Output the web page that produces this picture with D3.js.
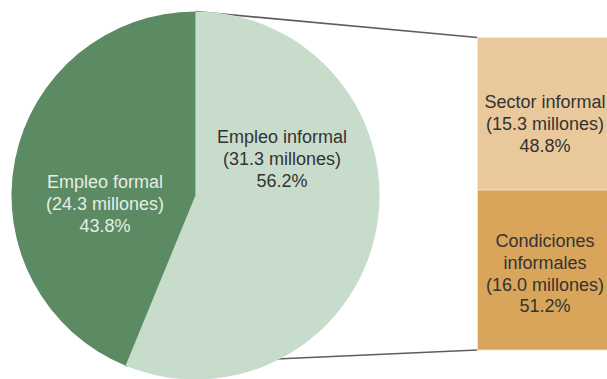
<!DOCTYPE html>
<html>
<head>
<meta charset="utf-8">
<script src="https://cdn.jsdelivr.net/npm/d3@7/dist/d3.min.js"></script>
<style>
  html, body { margin: 0; padding: 0; background: #fff; overflow: hidden; }
  svg { display: block; }
  text { font-family: "Liberation Sans", Arial, sans-serif; }
</style>
</head>
<body>
<svg id="chart" width="607" height="379"></svg>
<script>
// Main pie: employment split (informal slice first, clockwise from 12 o'clock)
const pieNames = ["Empleo informal", "Empleo formal"];
const pieMillions = ["31.3", "24.3"];
const piePercents = [56.2, 43.8];

// Stacked bar: breakdown of informal employment (top to bottom)
const barNames = [["Sector informal"], ["Condiciones", "informales"]];
const barMillions = ["15.3", "16.0"];
const barPercents = [48.8, 51.2];

const W = 607, H = 379;
const svg = d3.select("#chart");

const cx = 195.5, cy = 195.5, R = 184;
const pieColors = ["#c8dccc", "#5b8a63"];
const pieText = ["#333333", "#e4eee6"];
const barColors = ["#e9c99c", "#d9a55a"];

// Bar geometry
const barX0 = 477.5, barX1 = 614;
const y = d3.scaleLinear().domain([0, 100]).range([37.5, 350]);

const pie = d3.pie().sort(null).startAngle(0).endAngle(2 * Math.PI);
const arcs = pie(piePercents);
const arc = d3.arc().innerRadius(0).outerRadius(R);

// Connector lines run from the informal slice's edges to the bar corners;
// they are drawn first so the pie covers their inner part.
const inf = arcs[0];
const edgePt = a => [cx + R * Math.sin(a), cy - R * Math.cos(a)];
const p0 = edgePt(inf.startAngle), p1 = edgePt(inf.endAngle);
const conn = svg.append("g")
  .attr("stroke", "#5e5e5e").attr("stroke-width", 1.6).attr("fill", "none");
conn.append("line")
  .attr("x1", p0[0]).attr("y1", p0[1]).attr("x2", barX0).attr("y2", y(0));
conn.append("line")
  .attr("x1", p1[0]).attr("y1", p1[1]).attr("x2", barX0).attr("y2", y(100));

// Pie slices
const g = svg.append("g").attr("transform", `translate(${cx},${cy})`);
g.selectAll("path").data(arcs).join("path")
  .attr("d", arc)
  .attr("fill", (d, i) => pieColors[i]);

// Pie labels
const fmt = d3.format(".1f");
const pieLabelPos = [[282, 143], [105, 188]];
const lh = 21.8;
const fs = 18;
arcs.forEach((d, i) => {
  const t = svg.append("text")
    .attr("text-anchor", "middle")
    .attr("fill", pieText[i])
    .attr("font-size", fs);
  const lines = [pieNames[i], `(${pieMillions[i]} millones)`, `${fmt(piePercents[i])}%`];
  lines.forEach((s, k) => {
    t.append("tspan").attr("x", pieLabelPos[i][0]).attr("y", pieLabelPos[i][1] + k * lh).text(s);
  });
});

// Stacked bar segments
let acc = 0;
const segs = barPercents.map((v, i) => {
  const s = { i, y0: acc, y1: acc + v };
  acc += v;
  return s;
});
svg.selectAll("rect.seg").data(segs).join("rect")
  .attr("class", "seg")
  .attr("x", barX0)
  .attr("y", d => y(d.y0))
  .attr("width", barX1 - barX0)
  .attr("height", d => y(d.y1) - y(d.y0))
  .attr("fill", d => barColors[d.i])
  .attr("stroke", "#f3e6d2").attr("stroke-width", 0.8);

// Bar labels
const barCx = 545;
const barFirstBaseline = [108, 247];
segs.forEach((d, i) => {
  const t = svg.append("text")
    .attr("text-anchor", "middle")
    .attr("fill", "#333333")
    .attr("font-size", fs);
  const lines = [...barNames[i], `(${barMillions[i]} millones)`, `${fmt(barPercents[i])}%`];
  lines.forEach((s, k) => {
    t.append("tspan").attr("x", barCx).attr("y", barFirstBaseline[i] + k * lh).text(s);
  });
});
</script>
</body>
</html>
